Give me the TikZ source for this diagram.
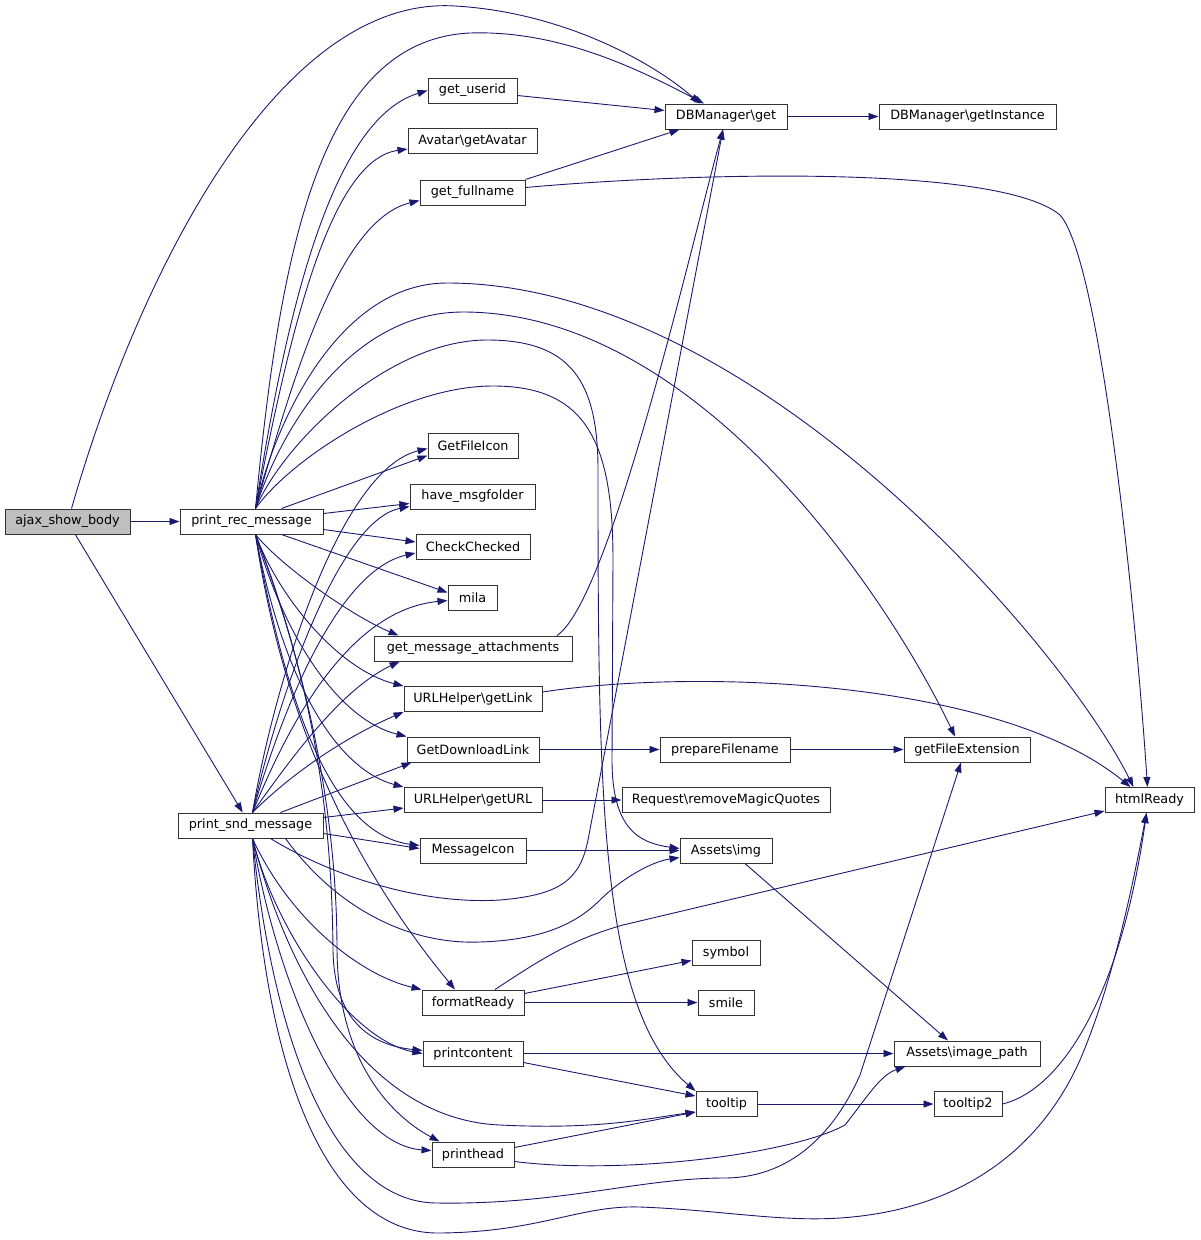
\documentclass[tikz,border=0pt]{standalone}
\usepackage{fontspec}
\setmainfont{DejaVu Sans}
\usetikzlibrary{arrows.meta}
\definecolor{edgeblue}{RGB}{25,25,112}
\definecolor{nodegray}{RGB}{191,191,191}

\begin{document}
\begin{tikzpicture}[x=1pt,y=1pt,yscale=-1,
		fn/.style={draw=black!80, line width=1pt, fill=white, minimum height=25pt, inner sep=0pt, font=\fontsize{12.8}{14}\selectfont},
		call/.style={draw=edgeblue, line width=0.9pt, -{Triangle[length=10pt,width=7pt]}}]
			\useasboundingbox (0,0) rectangle (1200,1240);
			
			% Nodes, column 1 and 2
			\node [fn, fill=nodegray, minimum width=125pt] (ajax) at (67.5,521.5) {ajax\_show\_body};
			\node [fn, minimum width=143pt] (prec) at (251.5,521.5) {print\_rec\_message};
			\node [fn, minimum width=145pt] (psnd) at (250.5,825.5) {print\_snd\_message};
			% Nodes, column 3
			\node [fn, minimum width=89pt] (userid) at (472.5,90.5) {get\_userid};
			\node [fn, minimum width=129pt] (avatar) at (472.5,141) {Avatar\textbackslash getAvatar};
			\node [fn, minimum width=105pt] (fullname) at (472.5,192.5) {get\_fullname};
			\node [fn, minimum width=90pt] (fileicon) at (473,445.5) {GetFileIcon};
			\node [fn, minimum width=125pt] (msgfolder) at (472.5,496.5) {have\_msgfolder};
			\node [fn, minimum width=114pt] (checked) at (473,547) {CheckChecked};
			\node [fn, minimum width=49pt] (mila) at (472.5,597.5) {mila};
			\node [fn, minimum width=198pt] (attach) at (473,648.5) {get\_message\_attachments};
			\node [fn, minimum width=138pt] (getlink) at (473,699) {URLHelper\textbackslash getLink};
			\node [fn, minimum width=132pt] (dllink) at (473,749.5) {GetDownloadLink};
			\node [fn, minimum width=138pt] (geturl) at (473,800) {URLHelper\textbackslash getURL};
			\node [fn, minimum width=106pt] (msgicon) at (473,850.5) {MessageIcon};
			\node [fn, minimum width=102pt] (fmtready) at (473,1002.5) {formatReady};
			\node [fn, minimum width=100pt] (pcontent) at (473,1053.5) {printcontent};
			\node [fn, minimum width=82pt] (phead) at (473,1154.5) {printhead};
			% Nodes, column 4
			\node [fn, minimum width=122pt] (dbget) at (726,116.5) {DBManager\textbackslash get};
			\node [fn, minimum width=130pt] (prepfn) at (725,749.5) {prepareFilename};
			\node [fn, minimum width=208pt] (magicq) at (726,800) {Request\textbackslash removeMagicQuotes};
			\node [fn, minimum width=92pt] (img) at (726,850.5) {Assets\textbackslash img};
			\node [fn, minimum width=68pt] (symbol) at (726,952.5) {symbol};
			\node [fn, minimum width=56pt] (smile) at (726,1002.5) {smile};
			\node [fn, minimum width=61pt] (tooltip) at (726.5,1104) {tooltip};
			% Nodes, column 5 and 6
			\node [fn, minimum width=177pt] (dbinst) at (967.5,116.5) {DBManager\textbackslash getInstance};
			\node [fn, minimum width=126pt] (fileext) at (967,749.5) {getFileExtension};
			\node [fn, minimum width=146pt] (imgpath) at (967,1053.5) {Assets\textbackslash image\_path};
			\node [fn, minimum width=68pt] (tooltip2) at (968,1104) {tooltip2};
			\node [fn, minimum width=89pt] (htmlready) at (1149.5,800) {htmlReady};
			
			\coordinate (pr-t) at ([xshift=4]prec.north);
			\coordinate (pr-b) at ([xshift=4]prec.south);
			\coordinate (ps-t) at ([xshift=2]psnd.north);
			\coordinate (ps-b) at ([xshift=2]psnd.south);
			
			% ajax_show_body
			\draw [call] (ajax) -- (prec);
			\draw [call] (ajax) -- (psnd);
			\draw [call] ([xshift=4]ajax.north) .. controls (140,270) and (280,-5) .. (455,6) .. controls (560,12) and (650,60) .. ([xshift=-26]dbget.north);
			
			% print_rec_message, upwards
			\draw [call] (pr-t) .. controls (280,250) and (320,40) .. (470,33) .. controls (560,30) and (640,70) .. ([xshift=-22]dbget.north);
			\draw [call] (pr-t) .. controls (285,320) and (330,120) .. (userid.west);
			\draw [call] (pr-t) .. controls (290,330) and (330,160) .. ([yshift=8]avatar.west);
			\draw [call] (pr-t) .. controls (295,370) and (340,220) .. ([yshift=8]fullname.west);
			\draw [call] (pr-t) .. controls (275,420) and (340,283) .. (447,283) .. controls (750,283) and (1060,640) .. ([xshift=-16]htmlready.north);
			\draw [call] (pr-t) .. controls (280,430) and (350,312) .. (463,312) .. controls (700,312) and (890,600) .. ([xshift=-12]fileext.north);
			\draw [call] (pr-t) .. controls (285,440) and (390,340) .. (487,340) .. controls (570,340) and (598,380) .. (598,470) .. controls (598,800) and (600,1010) .. (tooltip.north west);
			\draw [call] (pr-t) .. controls (290,460) and (400,386) .. (493,386) .. controls (585,386) and (613,440) .. (613,560) -- (612,760) .. controls (612,830) and (640,843) .. ([yshift=-2]img.west);
			\draw [call] ([xshift=30]prec.north) -- ([yshift=10]fileicon.west);
			\draw [call] ([yshift=-8]prec.east) -- ([yshift=7]msgfolder.west);
			\draw [call] ([yshift=8]prec.east) -- ([yshift=-5]checked.west);
			\draw [call] ([xshift=30]prec.south) -- ([yshift=-5]mila.west);
			% print_rec_message, downwards
			\draw [call] (pr-b) .. controls (280,565) and (350,615) .. ([xshift=25]attach.north west);
			\draw [call] (pr-b) .. controls (280,600) and (340,670) .. (getlink.north west);
			\draw [call] (pr-b) .. controls (285,640) and (340,720) .. (dllink.north west);
			\draw [call] (pr-b) .. controls (285,690) and (340,770) .. (geturl.north west);
			\draw [call] (pr-b) .. controls (290,730) and (340,835) .. ([yshift=-5]msgicon.west);
			\draw [call] (pr-b) .. controls (280,700) and (340,850) .. ([xshift=-18]fmtready.north);
			\draw [call] (pr-b) .. controls (320,700) and (332,840) .. (333,950) .. controls (334,1020) and (370,1045) .. ([yshift=-3]pcontent.west);
			\draw [call] (pr-b) .. controls (318,700) and (337,840) .. (337,950) .. controls (338,1060) and (390,1115) .. ([xshift=8]phead.north west);
			
			% print_snd_message, upwards
			\draw [call] (ps-t) .. controls (275,680) and (340,470) .. ([yshift=3]fileicon.west);
			\draw [call] (ps-t) .. controls (280,690) and (340,520) .. ([yshift=10]msgfolder.west);
			\draw [call] (ps-t) .. controls (285,700) and (340,570) .. ([yshift=6]checked.west);
			\draw [call] (ps-t) .. controls (290,720) and (350,610) .. ([yshift=3]mila.west);
			\draw [call] (ps-t) .. controls (290,760) and (340,690) .. ([xshift=26]attach.south west);
			\draw [call] (ps-t) .. controls (295,770) and (350,735) .. (getlink.south west);
			\draw [call] ([xshift=30]psnd.north) -- ([xshift=5]dllink.south west);
			\draw [call] ([yshift=-8]psnd.east) -- ([yshift=8]geturl.west);
			\draw [call] ([yshift=8]psnd.east) -- ([yshift=-2]msgicon.west);
			% print_snd_message, downwards
			\draw [call] ([xshift=20]psnd.south) .. controls (330,875) and (420,905) .. (500,900) .. controls (560,895) and (580,880) .. (588,840) -- ([xshift=-3]dbget.south);
			\draw [call] ([xshift=35]psnd.south) .. controls (330,900) and (400,945) .. (480,942) .. controls (540,940) and (575,925) .. (600,900) .. controls (620,880) and (650,862) .. ([yshift=7]img.west);
			\draw [call] (ps-b) .. controls (290,920) and (360,975) .. (fmtready.north west);
			\draw [call] (ps-b) .. controls (275,930) and (350,1040) .. (pcontent.west);
			\draw [call] (ps-b) .. controls (295,1000) and (380,1120) .. (500,1125) .. controls (600,1130) and (650,1118) .. ([yshift=8]tooltip.west);
			\draw [call] (ps-b) .. controls (280,1000) and (350,1145) .. ([yshift=-4]phead.west);
			\draw [call] (ps-b) .. controls (275,1060) and (340,1203) .. (437,1203) .. controls (560,1205) and (640,1178) .. (724,1178) .. controls (800,1178) and (840,1120) .. (860,1075) -- ([xshift=-6]fileext.south);
			\draw [call] (ps-b) .. controls (265,1080) and (330,1235) .. (440,1233) .. controls (540,1232) and (580,1205) .. (640,1207) .. controls (720,1210) and (780,1222) .. (840,1218) .. controls (960,1210) and (1040,1150) .. (1080,1060) .. controls (1110,990) and (1130,900) .. ([xshift=-3]htmlready.south);
			
			% callees
			\draw [call] (dbget) -- (dbinst);
			\draw [call] ([yshift=5]userid.east) -- ([yshift=-6]dbget.west);
			\draw [call] (fullname.north east) -- ([xshift=15]dbget.south west);
			\draw [call] ([yshift=-5]fullname.east) .. controls (700,172) and (1000,165) .. (1060,215) .. controls (1100,260) and (1135,600) .. ([xshift=-2]htmlready.north);
			\draw [call] ([xshift=84]attach.north) .. controls (610,600) and (690,250) .. ([xshift=-3]dbget.south);
			\draw [call] ([yshift=-7]getlink.east) .. controls (700,668) and (1000,680) .. ([xshift=-19]htmlready.north);
			\draw [call] (dllink) -- (prepfn);
			\draw [call] (prepfn) -- (fileext);
			\draw [call] (geturl) -- (magicq);
			\draw [call] (msgicon) -- (img);
			\draw [call] ([xshift=19]img.south) -- ([xshift=-19]imgpath.north);
			\draw [call] ([xshift=22]fmtready.north) .. controls (540,960) and (570,940) .. (623,925) -- ([yshift=11]htmlready.west);
			\draw [call] ([yshift=-9]fmtready.east) -- ([yshift=8]symbol.west);
			\draw [call] (fmtready) -- (smile);
			\draw [call] (pcontent) -- (imgpath);
			\draw [call] ([yshift=9]pcontent.east) -- ([yshift=-8]tooltip.west);
			\draw [call] ([yshift=-7]phead.east) -- ([yshift=8]tooltip.west);
			\draw [call] ([yshift=7]phead.east) .. controls (620,1175) and (790,1155) .. (845,1125) .. controls (865,1100) and (880,1075) .. ([xshift=12]imgpath.south west);
			\draw [call] (tooltip) -- (tooltip2);
			\draw [call] (tooltip2.east) .. controls (1060,1090) and (1120,1000) .. ([xshift=-3]htmlready.south);
			
		\end{tikzpicture}
\end{document}
